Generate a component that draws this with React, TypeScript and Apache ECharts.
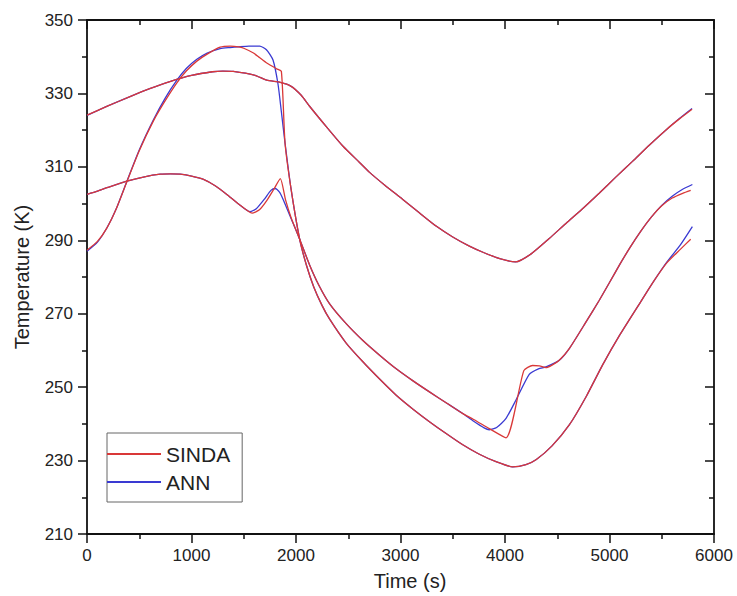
import React, { useEffect, useRef } from "react";
import * as echarts from "echarts";

const RED = "#d93838";
const BLUE = "#3a3ad2";
const FONT = "'Liberation Sans', Arial, sans-serif";

// Curve 1 (starts near 324 K) — SINDA and ANN overlap
const time1 = [0, 200, 400, 600, 800, 1000, 1200, 1300, 1400, 1600, 1720, 1850, 1950, 2050, 2130, 2300, 2450, 2608, 2704, 2850, 3019, 3180, 3344, 3500, 3659, 3800, 3950, 4100, 4250, 4420, 4583, 4750, 4901, 5060, 5220, 5380, 5538, 5666, 5790];
const temp1Sinda = [324.1, 326.6, 329.0, 331.3, 333.3, 334.9, 335.9, 336.1, 336.0, 335.0, 333.6, 333.0, 332.0, 329.5, 326.5, 320.6, 315.6, 311.2, 308.5, 305.0, 301.2, 297.5, 293.8, 290.9, 288.4, 286.6, 285.0, 284.1, 286.3, 290.4, 294.6, 298.8, 302.8, 307.2, 311.5, 315.9, 320.0, 323.0, 325.7];
const temp1Ann = [324.0, 326.6, 329.0, 331.3, 333.3, 334.9, 335.9, 336.1, 336.0, 335.0, 333.6, 333.0, 332.0, 329.5, 326.5, 320.6, 315.6, 311.2, 308.5, 305.0, 301.2, 297.5, 293.8, 290.9, 288.4, 286.6, 285.0, 284.1, 286.3, 290.4, 294.6, 298.8, 302.8, 307.2, 311.5, 315.9, 320.0, 323.1, 325.9];

// Curve 2 (starts near 287 K, peak ~343 K, falls to the lowest minimum)
const time2Sinda = [0, 100, 191, 280, 382, 500, 637, 750, 860, 950, 1051, 1150, 1274, 1370, 1450, 1500, 1593, 1650, 1720, 1815, 1860, 1895, 1950, 2035, 2100, 2170, 2250, 2322, 2480, 2640, 2800, 2959, 3120, 3277, 3440, 3596, 3750, 3914, 4073, 4200, 4300, 4450, 4615, 4780, 4933, 5100, 5315, 5427, 5550, 5680, 5777];
const temp2Sinda = [287.3, 289.7, 293.4, 298.6, 306.0, 314.4, 322.6, 328.1, 332.9, 336.1, 338.8, 340.7, 342.6, 342.9, 342.7, 342.3, 341.0, 339.8, 338.3, 336.7, 336.0, 316.5, 304.5, 290.3, 283.2, 277.3, 272.2, 268.5, 262.0, 256.9, 252.2, 247.8, 244.0, 240.6, 237.3, 234.3, 231.8, 229.7, 228.3, 228.9, 230.3, 234.0, 239.7, 247.6, 256.0, 264.3, 274.0, 279.0, 283.9, 287.6, 290.3];
const time2Ann = [0, 100, 191, 280, 382, 500, 637, 750, 860, 950, 1051, 1150, 1274, 1370, 1450, 1550, 1653, 1717, 1780, 1828, 1860, 1895, 1950, 2035, 2100, 2170, 2250, 2322, 2480, 2640, 2800, 2959, 3120, 3277, 3440, 3596, 3750, 3914, 4073, 4200, 4300, 4450, 4615, 4780, 4933, 5100, 5315, 5427, 5550, 5680, 5793];
const temp2Ann = [287.0, 289.5, 293.4, 298.6, 306.1, 314.6, 322.9, 328.8, 333.6, 336.8, 339.3, 341.0, 342.2, 342.5, 342.7, 342.9, 342.9, 341.9, 339.1, 332.5, 325.0, 316.5, 304.5, 290.3, 283.2, 277.3, 272.2, 268.5, 262.0, 256.9, 252.2, 247.8, 244.0, 240.6, 237.3, 234.3, 231.8, 229.7, 228.3, 228.9, 230.3, 234.0, 239.7, 247.6, 256.0, 264.3, 274.0, 279.0, 284.1, 288.8, 293.7];

// Curve 3 (starts near 302.5 K, bump near 1800 s, kink near 4000 s)
const time3Sinda = [0, 100, 200, 382, 550, 701, 800, 892, 1000, 1115, 1230, 1338, 1450, 1580, 1650, 1720, 1790, 1850, 1900, 1955, 2035, 2130, 2220, 2322, 2480, 2640, 2800, 2959, 3120, 3277, 3440, 3596, 3700, 3850, 4010, 4180, 4264, 4330, 4392, 4450, 4519, 4615, 4774, 4901, 5000, 5100, 5200, 5300, 5400, 5500, 5600, 5700, 5777];
const temp3Sinda = [302.5, 303.4, 304.4, 306.1, 307.3, 308.0, 308.1, 308.0, 307.5, 306.6, 304.8, 302.5, 299.9, 297.4, 298.3, 300.8, 304.0, 306.8, 301.0, 296.0, 290.3, 283.3, 277.7, 272.7, 267.3, 262.7, 258.7, 255.0, 251.7, 248.7, 245.7, 242.8, 241.2, 238.7, 236.2, 254.5, 255.9, 255.8, 255.3, 256.0, 257.3, 260.5, 267.7, 273.6, 278.5, 283.5, 288.2, 292.5, 296.3, 299.4, 301.5, 302.8, 303.6];
const time3Ann = [0, 100, 200, 382, 550, 701, 800, 892, 1000, 1115, 1230, 1338, 1450, 1561, 1620, 1700, 1760, 1800, 1840, 1876, 1955, 2035, 2130, 2220, 2322, 2480, 2640, 2800, 2959, 3120, 3277, 3440, 3596, 3700, 3800, 3850, 3920, 4010, 4105, 4232, 4320, 4392, 4519, 4615, 4774, 4901, 5000, 5100, 5200, 5300, 5400, 5500, 5600, 5700, 5793];
const temp3Ann = [302.5, 303.4, 304.4, 306.1, 307.3, 308.0, 308.1, 308.0, 307.5, 306.6, 304.8, 302.5, 299.9, 297.8, 298.6, 301.3, 303.6, 304.1, 303.2, 301.2, 295.8, 290.3, 283.3, 277.7, 272.7, 267.3, 262.7, 258.7, 255.0, 251.7, 248.7, 245.7, 242.8, 240.7, 238.9, 238.4, 239.0, 241.5, 246.5, 253.5, 255.0, 255.5, 257.3, 260.5, 267.7, 273.6, 278.5, 283.5, 288.2, 292.5, 296.3, 299.5, 302.0, 303.9, 305.2];

const X_MIN = 0, X_MAX = 6000, X_STEP = 1000;
const Y_MIN = 210, Y_MAX = 350, Y_STEP = 20;

const zip = (t: number[], v: number[]) => t.map((x, i) => [x, v[i]]);

export default function App() {
  const ref = useRef<HTMLDivElement>(null);
  useEffect(() => {
    const chart = echarts.init(ref.current!, null, { renderer: "svg" });
    const axisColor = "#111";
    const baseAxis = {
      type: "value" as const,
      axisLine: { show: true, onZero: false, lineStyle: { color: axisColor, width: 1.8 } },
      splitLine: { show: false },
      axisTick: { show: true, length: 9, lineStyle: { color: axisColor, width: 1.5 } },
      minorTick: { show: true, splitNumber: 2, length: 5, lineStyle: { color: axisColor, width: 1.5 } },
    };
    const labelStyle = {
      fontSize: 17,
      color: "#222",
      fontFamily: FONT,
      formatter: (v: number) => String(v),
    };
    const mk = (name: string, color: string, data: number[][]) => ({
      type: "line",
      name,
      data,
      xAxisIndex: 0,
      yAxisIndex: 0,
      symbol: "none",
      smooth: 0.2,
      lineStyle: { color, width: 1.3 },
      itemStyle: { color },
    });
    chart.setOption({
      animation: false,
      backgroundColor: "#fff",
      grid: { left: 87, right: 23, top: 20, bottom: 60 },
      legend: {
        data: [
          { name: "SINDA", icon: "rect" },
          { name: "ANN", icon: "rect" },
        ],
        orient: "vertical",
        left: 107,
        top: 433,
        itemWidth: 54,
        itemHeight: 2,
        itemGap: 6,
        padding: [10, 12, 9, 0],
        borderColor: "#666",
        borderWidth: 1,
        textStyle: { fontSize: 21, lineHeight: 22, color: "#222", fontFamily: FONT },
      },
      xAxis: [
        {
          ...baseAxis,
          min: X_MIN, max: X_MAX, interval: X_STEP,
          position: "bottom",
          axisLabel: { ...labelStyle, margin: 13 },
          name: "Time (s)",
          nameLocation: "middle",
          nameGap: 37,
          nameTextStyle: { fontSize: 20, color: "#222", fontFamily: FONT, padding: [0, 0, 0, 19] },
        },
        {
          ...baseAxis,
          min: X_MIN, max: X_MAX, interval: X_STEP,
          position: "top",
          axisTick: { ...baseAxis.axisTick, inside: true },
          axisLabel: { show: false },
        },
      ],
      yAxis: [
        {
          ...baseAxis,
          min: Y_MIN, max: Y_MAX, interval: Y_STEP,
          position: "left",
          axisLabel: { ...labelStyle, margin: 14 },
          name: "Temperature (K)",
          nameLocation: "middle",
          nameGap: 55,
          nameTextStyle: { fontSize: 20, color: "#222", fontFamily: FONT },
        },
        {
          ...baseAxis,
          min: Y_MIN, max: Y_MAX, interval: Y_STEP,
          position: "right",
          axisTick: { ...baseAxis.axisTick, inside: true },
          axisLabel: { show: false },
        },
      ],
      series: [
        mk("ANN", BLUE, zip(time1, temp1Ann)),
        mk("ANN", BLUE, zip(time2Ann, temp2Ann)),
        mk("ANN", BLUE, zip(time3Ann, temp3Ann)),
        mk("SINDA", RED, zip(time1, temp1Sinda)),
        mk("SINDA", RED, zip(time2Sinda, temp2Sinda)),
        mk("SINDA", RED, zip(time3Sinda, temp3Sinda)),
      ],
    });
    return () => chart.dispose();
  }, []);
  return <div ref={ref} style={{ position: "fixed", left: 0, top: 0, width: 737, height: 596 }} />;
}
